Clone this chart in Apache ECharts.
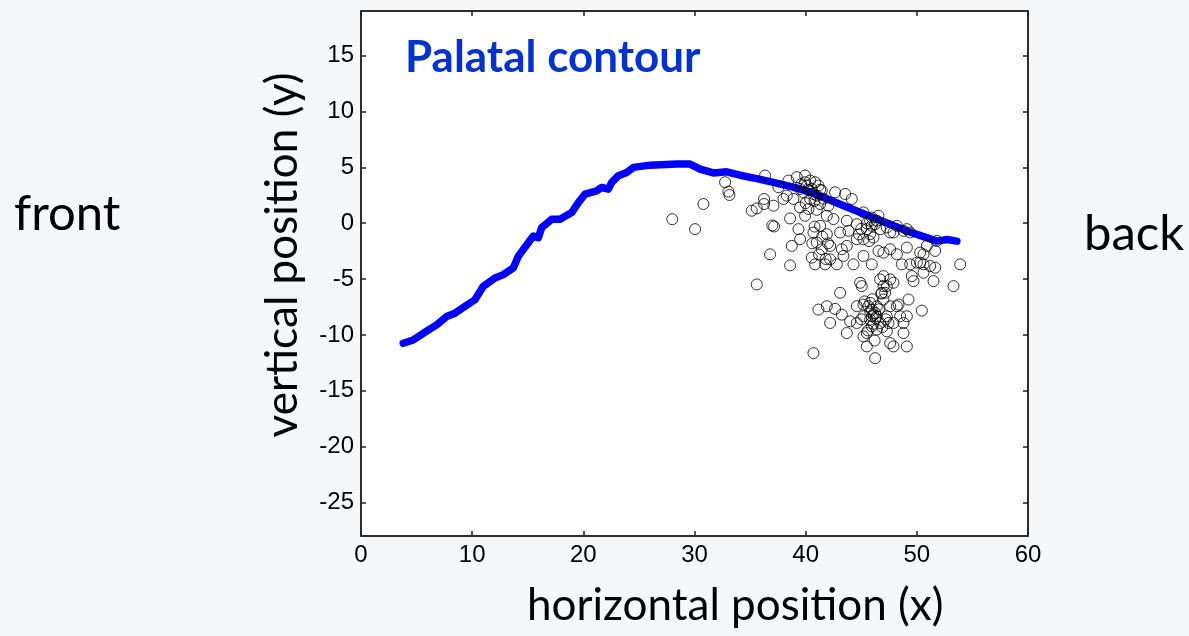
<!DOCTYPE html>
<html>
<head>
<meta charset="utf-8">
<script src="https://cdn.jsdelivr.net/npm/echarts@6/dist/echarts.min.js"></script>
<style>
  html, body { margin: 0; padding: 0; background: #f6f7f9; }
  #chart { width: 1189px; height: 636px; }
</style>
</head>
<body>
<div id="chart"></div>
<script>
// palatal contour (x, y)
const contourX = [3.8, 4.7, 5.6, 6.8, 7.7, 8.45, 9.35, 10.25, 11.0, 12.05, 12.8, 13.7, 14.15, 15.05, 15.5, 15.95, 16.25, 17.15, 17.9, 18.95, 19.55, 20.15, 21.2, 21.65, 22.25, 22.55, 23.15, 23.9, 24.5, 26.0, 28.4, 29.6, 30.5, 31.7, 32.9, 34.1, 35.6, 37.1, 38.6, 40.1, 41.6, 43.1, 44.6, 46.1, 47.6, 49.1, 50.6, 51.8, 52.7, 53.6]
const contourY = [-10.75, -10.45, -9.85, -9.1, -8.35, -8.05, -7.45, -6.85, -5.65, -4.9, -4.6, -4.0, -2.95, -1.75, -1.15, -1.3, -0.4, 0.35, 0.35, 0.95, 1.85, 2.6, 2.9, 3.2, 3.05, 3.65, 4.25, 4.55, 5.0, 5.2, 5.3, 5.3, 4.85, 4.5, 4.6, 4.3, 4.0, 3.65, 3.3, 2.9, 2.3, 1.7, 1.1, 0.5, -0.1, -0.7, -1.2, -1.6, -1.45, -1.6]

// tongue positions (scatter)
const pointX = [
  28.0, 36.35, 32.75, 33.05, 33.14, 30.8, 30.05, 35.15, 35.6, 36.26, 36.26, 37.1, 37.16, 36.8, 35.6, 38.6, 38.75, 38.6,
  37.55, 38.45, 38.0, 39.35, 39.5, 39.2, 39.95, 38.9, 39.5, 39.95, 40.1, 40.55, 40.85, 39.8, 40.4, 41.0, 41.3, 40.25,
  40.7, 41.0, 41.45, 40.55, 40.85, 41.75, 42.2, 42.8, 43.4, 43.7, 43.25, 42.65, 43.55, 44.15, 42.05, 41.9, 42.5, 43.7,
  43.1, 43.85, 44.6, 45.2, 44.6, 45.2, 45.95, 45.95, 46.4, 46.7, 46.1, 45.8, 41.9, 41.3, 42.2, 44.3, 45.2, 45.95,
  46.55, 47.0, 47.6, 48.2, 49.1, 47.9, 48.2, 48.8, 49.4, 48.65, 49.4, 50.0, 50.6, 51.2, 51.65, 50.6, 49.55, 51.5,
  49.7, 53.3, 53.9, 51.65, 50.9, 51.8, 50.6, 50.3,
  44.9, 45.05, 47.0, 47.6, 47.0, 43.1, 41.9, 41.15, 42.65, 42.2, 43.25, 44.0, 44.6, 45.2, 45.8, 46.25, 45.95, 46.4,
  47.0, 47.6, 48.2, 48.5, 49.1, 48.8, 47.45, 47.3, 47.6, 47.9, 49.1, 48.8, 46.4, 45.5, 45.2, 44.6, 43.7, 45.5,
  46.25, 40.7, 47.15, 48.35, 49.25, 50.45, 47.9, 46.7, 45.95, 46.1, 45.8, 46.4, 45.65, 46.7, 45.2, 45.95, 47.3, 47.9,
  46.85, 47.3,
  39.95, 40.4, 41.15, 41.45, 40.7, 39.5, 45.8, 46.25, 46.55, 45.5, 47.3, 47.6, 49.1, 50.3, 38.3, 37.0,
  39.6, 40.2, 40.8, 41.3, 41.6, 40.0, 41.0, 40.8, 41.5, 41.2, 42.0, 40.6, 41.8, 45.0, 45.5, 44.8, 45.7,
  45.3, 45.8, 46.1, 46.3, 45.6, 46.0, 46.6, 46.9, 45.0, 46.2, 47.2, 46.8
]
const pointY = [
  0.36, 4.27, 3.67, 2.83, 2.53, 1.72, -0.53, 1.12, 1.33, 1.72, 2.17, 1.57, -0.29, -2.78, -5.48, -3.77, -2.03, 0.43,
  3.22, 3.82, 2.17, -0.53, -1.43, 4.12, 4.27, 2.17, 1.42, 0.67, 3.37, 3.07, 3.67, 2.77, 2.17, 2.47, 1.72, 1.27,
  -0.83, -1.73, -2.33, -3.08, -3.68, -3.68, -3.23, -3.68, -2.93, -2.03, -2.33, 2.77, 2.62, 2.17, 1.57, 0.67, 0.37, 0.22,
  -0.83, -0.68, -1.43, -1.43, -0.08, 0.97, 0.52, -0.23, 0.22, -0.53, -1.28, -0.98, -0.98, -0.23, -2.03, -3.68, -2.93, -3.68,
  -2.48, -2.63, -2.33, -2.78, -2.18, -0.83, -0.23, -0.68, -0.83, -3.68, -3.68, -3.53, -3.68, -3.83, -3.98, -4.43, -4.73, -5.18,
  -5.18, -5.63, -3.68, -2.48, -2.03, -1.58, -2.78, -3.53,
  -5.33, -5.63, -4.73, -5.03, -5.63, -6.23, -7.43, -7.73, -7.67, -8.93, -8.18, -8.78, -7.43, -7.28, -7.13, -8.03, -8.33, -7.43,
  -6.83, -7.43, -7.43, -8.33, -8.33, -8.93, -8.93, -9.68, -10.73, -11.03, -11.03, -9.83, -9.53, -9.83, -10.13, -8.93, -9.83, -11.03,
  -12.08, -11.63, -6.23, -7.28, -6.83, -7.82, -5.33, -5.03, -7.73, -8.18, -8.63, -8.33, -7.43, -8.93, -8.33, -9.23, -8.33, -8.93,
  -6.23, -5.63,
  3.67, 3.82, 3.37, 2.92, 2.62, 3.07, 0.22, -0.08, 0.67, -0.53, -0.38, -0.83, -0.53, -2.63, 2.47, -0.2,
  3.5, 3.0, 2.0, 3.0, 2.2, 1.8, 1.2, -0.3, -1.2, -2.8, -1.8, -1.8, -3.2, -0.5, 0.0, -1.0, -1.6,
  -7.0, -7.9, -9.0, -8.5, -9.6, -6.8, -7.7, -9.3, -8.6, -10.5, -8.6, -6.3
]

const xTicks = [0, 10, 20, 30, 40, 50, 60]
const yTicks = [-25, -20, -15, -10, -5, 0, 5, 10, 15]

const chart = echarts.init(document.getElementById('chart'))

const tickFont = { color: '#000', fontFamily: 'Liberation Sans', fontSize: 24 }
const frameLine = { onZero: false, lineStyle: { color: '#222', width: 1.5 } }
const innerTick = { inside: true, length: 5, lineStyle: { color: '#222', width: 1.5 } }

const option = {
  backgroundColor: '#f6f7f9',
  animation: false,
  grid: {
    left: 361, top: 11, right: 161, bottom: 100,
    show: true, backgroundColor: '#fff', borderColor: '#222', borderWidth: 1.5
  },
  xAxis: [
    {
      type: 'value', min: 0, max: 60, interval: 10,
      axisLine: frameLine,
      axisTick: { ...innerTick, customValues: xTicks },
      axisLabel: { ...tickFont, margin: 7, customValues: xTicks },
      splitLine: { show: false }
    },
    {
      type: 'value', position: 'top', min: 0, max: 60, interval: 10,
      axisLine: frameLine,
      axisTick: { ...innerTick, customValues: xTicks },
      axisLabel: { show: false }, splitLine: { show: false }
    }
  ],
  yAxis: [
    {
      type: 'value', min: -28, max: 19,
      axisLine: frameLine,
      axisTick: { ...innerTick, customValues: yTicks },
      axisLabel: { ...tickFont, margin: 7, customValues: yTicks },
      splitLine: { show: false }
    },
    {
      type: 'value', position: 'right', min: -28, max: 19,
      axisLine: frameLine,
      axisTick: { ...innerTick, customValues: yTicks },
      axisLabel: { show: false }, splitLine: { show: false }
    }
  ],
  graphic: [
    { type: 'text', left: 405, top: 36,
      style: { text: 'Palatal contour', fill: '#0033cc', font: 'bold 44px Lato' } },
    { type: 'text', left: 14, top: 190,
      style: { text: 'front', fill: '#000', font: '49px Lato' } },
    { type: 'text', left: 1084, top: 210,
      style: { text: 'back', fill: '#000', font: '49px Lato' } },
    { type: 'text', left: 527, top: 584,
      style: { text: 'horizontal position (x)', fill: '#000', font: '44px Lato' } },
    { type: 'text', x: 283, y: 255, rotation: Math.PI / 2,
      style: { text: 'vertical position (y)', fill: '#000', font: '44px Lato', align: 'center', verticalAlign: 'middle' } }
  ],
  series: [
    {
      type: 'line',
      data: contourX.map((x, i) => [x, contourY[i]]),
      showSymbol: false,
      lineStyle: { color: '#0000ff', width: 7.5, join: 'round', cap: 'round' },
      z: 2
    },
    {
      type: 'scatter',
      data: pointX.map((x, i) => [x, pointY[i]]),
      symbol: 'circle',
      symbolSize: 11,
      itemStyle: { color: 'rgba(0,0,0,0)', borderColor: '#000', borderWidth: 1 },
      z: 3
    }
  ]
}

chart.setOption(option)
</script>
</body>
</html>
